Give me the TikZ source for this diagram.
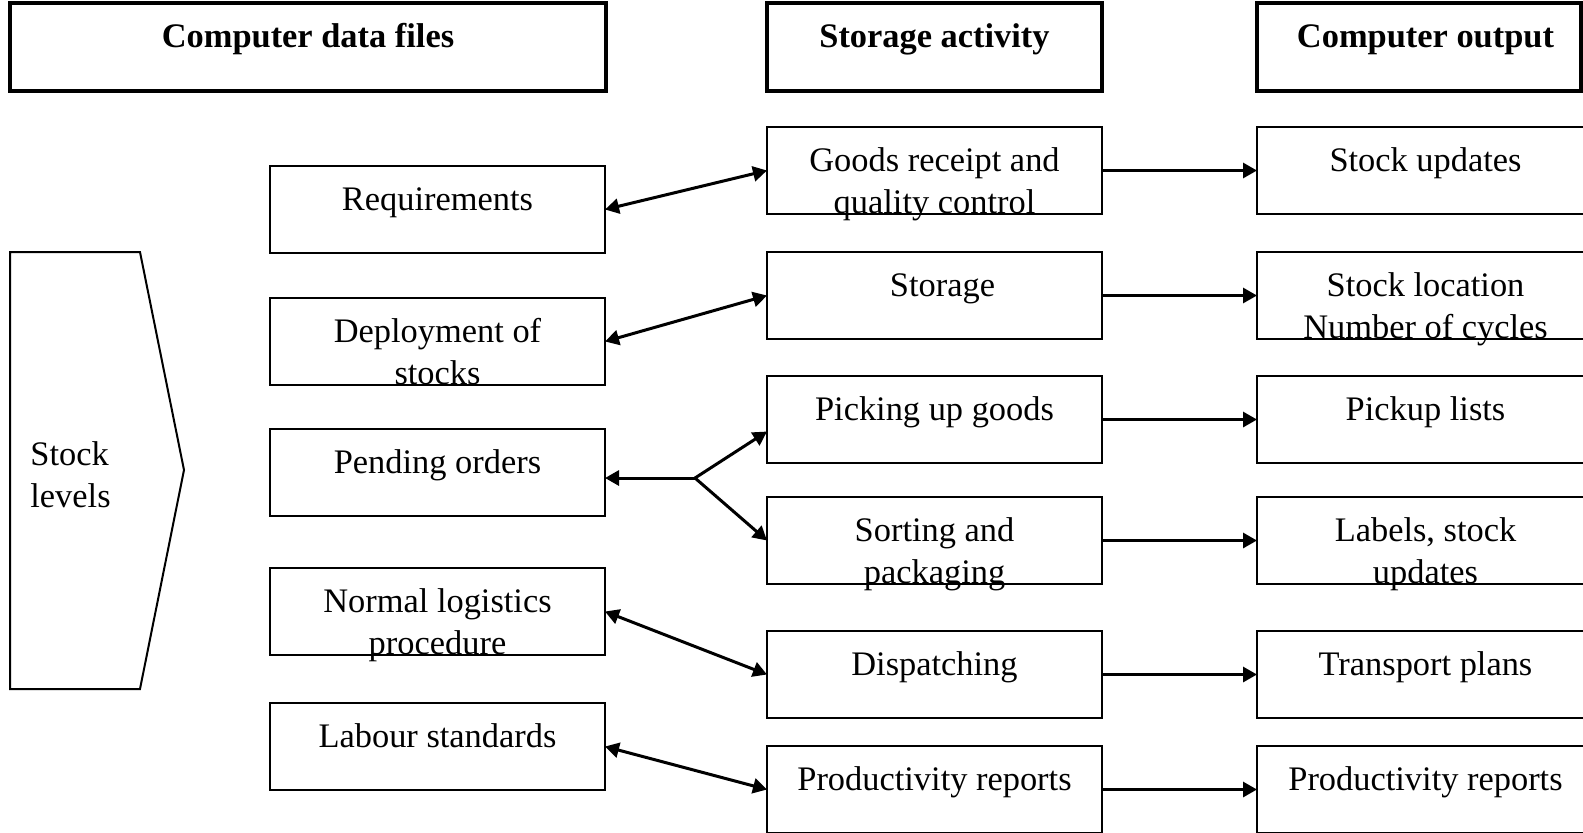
\documentclass[tikz,border=0pt]{standalone}
\usepackage{fontspec}
\setmainfont{Liberation Serif}
\usetikzlibrary{arrows.meta}
\newcommand*\boxwd {167.5pt}
\newcommand*\boxht {43.5pt}
\newcommand*\txtdrop{7.2pt}
\tikzset{
    box/.style      = {draw, line width=1pt, minimum width=\boxwd,
                      minimum height=\boxht, inner sep=0pt, outer sep=0pt},
    headbox/.style  = {box, line width=2pt, minimum height=44pt},
    txt/.style      = {anchor=north, align=center, inner sep=0pt,
                      font=\fontsize{17.2}{21.2}\selectfont},
    headtxt/.style  = {txt, font=\fontsize{17.2}{21.2}\selectfont\bfseries},
    link/.style     = {line width=1.5pt},
  }

\begin{document}
\begin{tikzpicture}[x=0.5pt, y=-0.5pt, >={Triangle[length=7pt,width=7.5pt]}]
        \fill[white] (0,0) rectangle (1583,832);
        \useasboundingbox (0,0) rectangle (1583,832);

        % Column headers
        \node[headbox, minimum width=298pt] (hfiles) at (308,47) {};
        \node[headbox] (hstore) at (934.5,47) {};
        \node[headbox, minimum width=162pt] (hout) at (1419,47) {};
        \node[headtxt] (hfiles-t) at ([yshift=-\txtdrop]hfiles.north) {\strut Computer data files};
        \node[headtxt] (hstore-t) at ([yshift=-\txtdrop]hstore.north) {\strut Storage activity};
        \node[headtxt] (hout-t) at ([yshift=-\txtdrop]hout.north -| 1425.5,0) {\strut Computer output};

        % Stock levels block
        \draw[line width=1pt] (10,252) -- (140,252) -- (184,470) -- (140,689) -- (10,689) -- cycle;
        \node[txt, anchor=north west, align=left] (stock) at (30,435) {\strut Stock\\levels};

        % Left column: data files
        \foreach \n/\y/\t in {req/209.5/Requirements,
                              dep/341.5/{Deployment of\\stocks},
                              pend/472.5/{Pending orders},
                              norm/611.5/{Normal logistics\\procedure},
                              labour/746.5/{Labour standards}} {
            \node[box] (\n) at (437.5,\y) {};
            \node[txt] (\n-t) at ([yshift=-\txtdrop]\n.north) {\strut\t};
        }

        % Middle column: storage activity
        \foreach \n/\y/\t in {grc/170.5/{Goods receipt and\\quality control},
                              stor/295.5/{\hspace*{8pt}Storage},
                              pick/419.5/{Picking up goods},
                              sort/540.5/{Sorting and\\packaging},
                              disp/674.5/Dispatching,
                              prodm/789.5/{Productivity reports}} {
            \node[box] (\n) at (934.5,\y) {};
            \node[txt] (\n-t) at ([yshift=-\txtdrop]\n.north) {\strut\t};
        }

        % Right column: computer output (runs off the page edge)
        \foreach \n/\y/\t in {upd/170.5/{Stock updates},
                              loc/295.5/{Stock location\\Number of cycles},
                              plist/419.5/{Pickup lists},
                              lbl/540.5/{Labels, stock\\updates},
                              tplan/674.5/{Transport plans},
                              prodr/789.5/{Productivity reports}} {
            \node[box, minimum width=168.5pt] (\n) at (1425.5,\y) {};
            \node[txt] (\n-t) at ([yshift=-\txtdrop]\n.north) {\strut\t};
        }

        % Two-way links between files and activities
        \foreach \a/\b in {req/grc, dep/stor, norm/disp, labour/prodm} {
            \draw[link, <->] (\a.east) -- (\b.west);
        }

        % Pending orders fork
        \coordinate (fork) at (695,478);
        \draw[link, ->] (fork) -- (fork -| pend.east);
        \draw[link, ->] (fork) -- ([yshift=-6pt]pick.west);
        \draw[link, ->] (fork) -- (sort.west);

        % Activities to output
        \foreach \a/\b in {grc/upd, stor/loc, pick/plist, sort/lbl, disp/tplan, prodm/prodr} {
            \draw[link, ->] (\a.east) -- (\b.west);
        }
    \end{tikzpicture}
\end{document}
